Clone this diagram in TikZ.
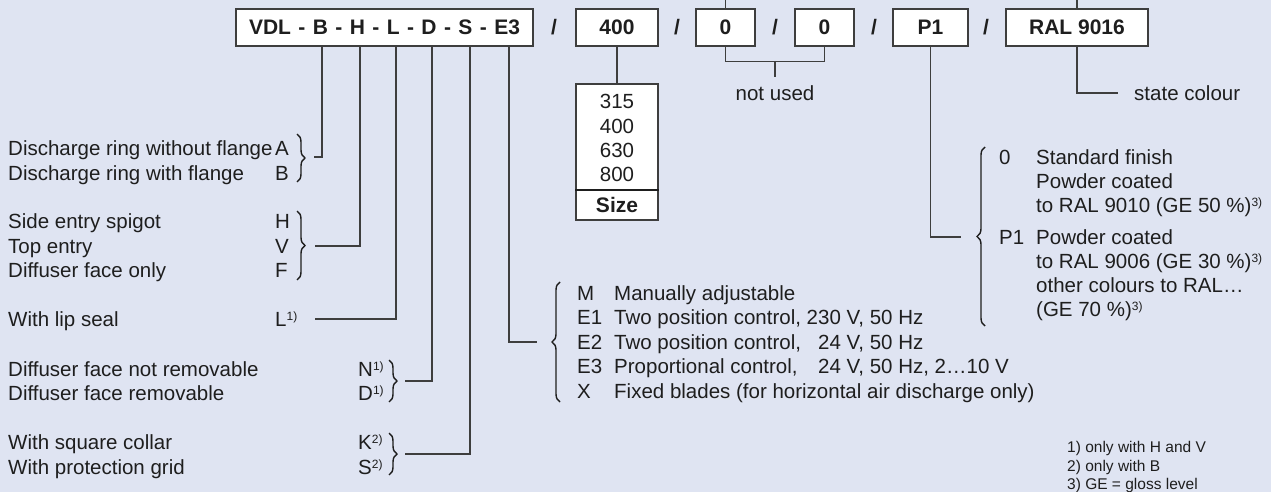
\documentclass[tikz,border=0pt]{standalone}
\usepackage{fontspec}
\setmainfont{Liberation Sans}
\usepackage{calc}
\usetikzlibrary{decorations.pathreplacing}
\definecolor{bgcol}{RGB}{223,228,242}
\definecolor{ink}{RGB}{30,30,30}
\definecolor{linecol}{RGB}{62,62,62}
\newcommand\fnm[1]{\raisebox{0.3em}{\fontsize{12}{12}\selectfont #1}}
\begin{document}
\begin{tikzpicture}[x=1pt,y=-1pt,
  txt/.style={anchor=base west, inner sep=0pt, text=ink, font=\fontsize{20.5}{25}\selectfont},
  ctr/.style={anchor=base, inner sep=0pt, text=ink, font=\fontsize{20.5}{25}\selectfont},
  fn/.style={anchor=base west, inner sep=0pt, text=ink, font=\fontsize{15.5}{18}\selectfont},
  codebox/.style={draw=linecol, fill=white, line width=1.1pt, minimum height=37pt, inner sep=0pt, text=ink, font=\bfseries\fontsize{21}{25}\selectfont},
  slash/.style={inner sep=0pt, text=ink, font=\bfseries\fontsize{21}{25}\selectfont},
  conn/.style={draw=linecol, line width=1.1pt},
  brc/.style={draw=ink, line width=1.4pt, decorate, decoration={brace, amplitude=8pt}},
]
\fill[bgcol] (0,0) rectangle (1271,492);
\useasboundingbox (0,0) rectangle (1271,492);

% top row
\node[codebox, minimum width=297pt] (vdl) at (384.5,27.5) {\makebox[271pt][s]{VDL - B - H - L - D - S - E3}};
\node[codebox, minimum width=82pt] (s400) at (617,27.5) {400};
\node[codebox, minimum width=59pt] (z1) at (725.5,27.5) {0};
\node[codebox, minimum width=59pt] (z2) at (824.5,27.5) {0};
\node[codebox, minimum width=75pt] (p1) at (930.5,27.5) {P1};
\node[codebox, minimum width=142pt] (ral) at (1077,27.5) {RAL 9016};
\node[slash] (sl1) at (554,27.5) {/};
\node[slash] (sl2) at (677,27.5) {/};
\node[slash] (sl3) at (775,27.5) {/};
\node[slash] (sl4) at (874,27.5) {/};
\node[slash] (sl5) at (986,27.5) {/};

\coordinate (topz) at (725.5,0);
\coordinate (topr) at (1077,0);
\draw[conn] (z1.north) -- (topz);
\draw[conn] (ral.north) -- (topr);

% size box
\node[draw=linecol, fill=white, line width=1.1pt, minimum width=82pt, minimum height=136pt, inner sep=0pt] (sizebox) at (617,152) {};
\draw[conn] (s400.south) -- (sizebox.north);
\node[ctr] (n315) at (617,108.4) {315};
\node[ctr] (n400) at (617,133.4) {400};
\node[ctr] (n630) at (617,157.4) {630};
\node[ctr] (n800) at (617,181.4) {800};
\draw[draw=ink, line width=2.4pt] (sizebox.west |- 0,190) -- (sizebox.east |- 0,190);
\node[anchor=base, inner sep=0pt, text=ink, font=\bfseries\fontsize{21}{25}\selectfont] (sizelbl) at (617,212.5) {Size};

% not used
\coordinate (numid) at (775,61);
\coordinate (nuend) at (775,77);
\draw[conn] (z1.south) -- ++(0,15) -| (z2.south);
\draw[conn] (numid) -- (nuend);
\node[ctr] (nutext) at (775,100.5) {not used};

% state colour
\coordinate (stateend) at (1118,93);
\draw[conn] (ral.south) |- (stateend);
\node[txt] (statetext) at (1134,100.5) {state colour};

% P1 group
\coordinate (ptip) at (961,237);
\draw[conn] (p1.south) |- (ptip);
\draw[brc] (985,326) -- (985,147);
\node[txt] (c0) at (999,164.4) {0};
\node[txt] (t0a) at (1036,164.4) {Standard finish};
\node[txt] (t0b) at (1036,188.4) {Powder coated};
\node[txt] (t0c) at (1036,212.4) {to RAL 9010 (GE 50 \%)\fnm{3)}};
\node[txt] (cp1) at (999,244.4) {P1};
\node[txt] (tpa) at (1036,244.4) {Powder coated};
\node[txt] (tpb) at (1036,268.4) {to RAL 9006 (GE 30 \%)\fnm{3)}};
\node[txt] (tpc) at (1036,292.4) {other colours to RAL…};
\node[txt] (tpd) at (1036,316.4) {(GE 70 \%)\fnm{3)}};

% E3 group
\coordinate (mtip) at (537,342);
\draw[conn] (vdl.south -| 509,0) |- (mtip);
\draw[brc] (560,402) -- (560,282);
\node[txt] (cm) at (577,300.4) {M};
\node[txt] (tm) at (614,300.4) {Manually adjustable};
\node[txt] (ce1) at (577,324.9) {E1};
\node[txt] (te1) at (614,324.9) {Two position control, 230 V, 50 Hz};
\node[txt] (ce2) at (577,349.4) {E2};
\node[txt] (te2) at (614,349.4) {Two position control, \phantom{2}24 V, 50 Hz};
\node[txt] (ce3) at (577,373.9) {E3};
\node[txt] (te3) at (614,373.9) {\makebox[\widthof{Two position control, 2}][l]{Proportional control,}24 V, 50 Hz, 2…10 V};
\node[txt] (cx) at (577,398.4) {X};
\node[txt] (tx) at (614,398.4) {Fixed blades (for horizontal air discharge only)};

% left groups
\coordinate (tAB) at (314,157);
\coordinate (tHVF) at (315,246);
\coordinate (tL) at (315,319);
\coordinate (tND) at (405,381);
\coordinate (tKS) at (405,454);
\draw[conn] (vdl.south -| 322,0) |- (tAB);
\draw[conn] (vdl.south -| 360,0) |- (tHVF);
\draw[conn] (vdl.south -| 396,0) |- (tL);
\draw[conn] (vdl.south -| 432,0) |- (tND);
\draw[conn] (vdl.south -| 470,0) |- (tKS);
\draw[brc] (297,134) -- (297,182);
\draw[brc] (297,211) -- (297,280);
\draw[brc] (389,360) -- (389,402);
\draw[brc] (389,433) -- (389,475);

\node[txt] (la) at (8,155.4) {Discharge ring without flange};
\node[txt] (lb) at (8,180.4) {Discharge ring with flange};
\node[txt] (lh) at (8,228.4) {Side entry spigot};
\node[txt] (lv) at (8,253) {Top entry};
\node[txt] (lf) at (8,277.4) {Diffuser face only};
\node[txt] (ll) at (8,326.4) {With lip seal};
\node[txt] (ln) at (8,376.4) {Diffuser face not removable};
\node[txt] (ld) at (8,400.4) {Diffuser face removable};
\node[txt] (lk) at (8,449.4) {With square collar};
\node[txt] (ls) at (8,474.4) {With protection grid};
\node[txt] (ka) at (275,155.4) {A};
\node[txt] (kb) at (275,180.4) {B};
\node[txt] (kh) at (275,228.4) {H};
\node[txt] (kv) at (275,253) {V};
\node[txt] (kf) at (275,277.4) {F};
\node[txt] (kl) at (275,326.4) {L\fnm{1)}};
\node[txt] (kn) at (358,376.4) {N\fnm{1)}};
\node[txt] (kd) at (358,400.4) {D\fnm{1)}};
\node[txt] (kk) at (358,449.4) {K\fnm{2)}};
\node[txt] (ks) at (358,474.4) {S\fnm{2)}};

% footnotes
\node[fn] (f1) at (1067,452.5) {1) only with H and V};
\node[fn] (f2) at (1067,471) {2) only with B};
\node[fn] (f3) at (1067,489) {3) GE = gloss level};
\end{tikzpicture}
\end{document}
